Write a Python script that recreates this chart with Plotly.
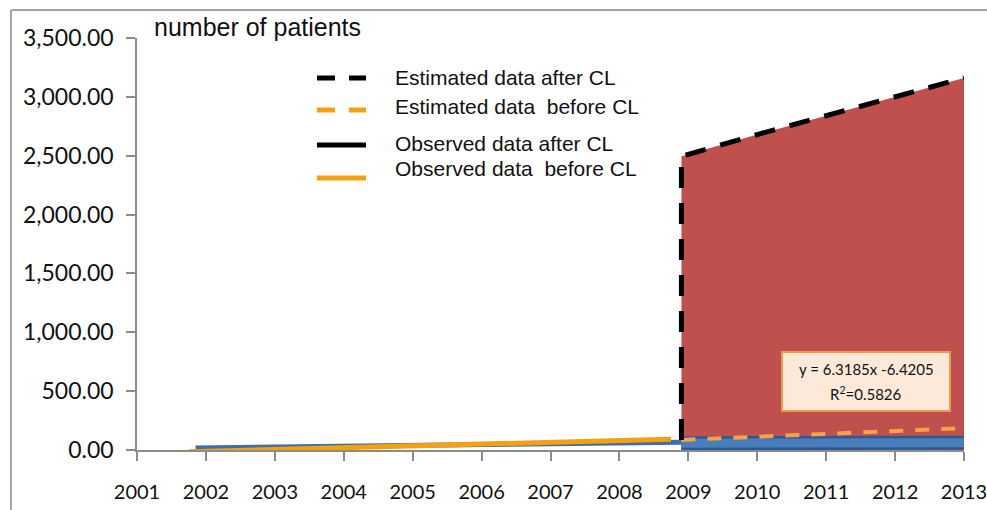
import plotly.graph_objects as go

# ---------------- data ----------------
obs_before_years = [2001.75, 2002.75, 2003.75, 2004.75, 2005.75, 2006.75, 2007.75, 2008.75]
obs_before_vals = [-15, 2, 16, 30, 47, 61, 77, 92]

obs_blue_years = [2001.85, 2002.85, 2003.85, 2004.85, 2005.85, 2006.85, 2007.85, 2008.9]
obs_blue_vals = [17, 23, 30, 38, 44, 51, 58, 66]

band_years = [2008.9, 2010, 2011, 2012, 2013.03]
band_vals = [58, 59, 60, 61, 62]

est_before_years = [2008.9, 2010, 2011, 2012, 2013]
est_before_vals = [86, 112, 138, 162, 186]

est_after_years = [2008.9, 2008.9, 2010, 2011, 2012, 2013]
est_after_vals = [85, 2495, 2680, 2840, 3000, 3160]

year_ticks = list(range(2001, 2014))
y_ticks = [0, 500, 1000, 1500, 2000, 2500, 3000, 3500]

legend_labels = ["Estimated data after CL", "Estimated data\u00a0 before CL",
                 "Observed data after CL", "Observed data\u00a0 before CL"]
regression_lines = ["y = 6.3185x -6.4205", "R<sup>2</sup>=0.5826"]
y_title = "number of patients"

# ---------------- layout geometry ----------------
W, H = 987, 510
L, R, T, B = 137, 23, 38, 60
PW = W - L - R
PH = H - T - B


def px(x):
    return (x - L) / PW


def py(y):
    return (H - B - y) / PH


RED = "#c0504d"
ORANGE = "#f5a00f"
ORANGE_LIGHT = "#f4a24c"
BLUE_DARK = "#2c5a90"
BLUE = "#4a7ebb"

fig = go.Figure()

# red area under estimated-after curve
fig.add_trace(go.Scatter(x=est_after_years[1:], y=est_after_vals[1:], mode="lines",
                         fill="tozeroy", fillcolor=RED, line=dict(width=0, color=RED),
                         hoverinfo="skip", showlegend=False))
# blue band (observed after)
fig.add_trace(go.Scatter(x=band_years, y=band_vals, mode="lines",
                         line=dict(color=BLUE_DARK, width=14), showlegend=False))
fig.add_trace(go.Scatter(x=band_years, y=band_vals, mode="lines",
                         line=dict(color=BLUE, width=9), showlegend=False))
# blue thin observed
fig.add_trace(go.Scatter(x=obs_blue_years, y=obs_blue_vals, mode="lines",
                         line=dict(color="#3d6dab", width=5), showlegend=False))
# estimated before (orange dashed)
fig.add_trace(go.Scatter(x=est_before_years, y=est_before_vals, mode="lines",
                         line=dict(color=ORANGE_LIGHT, width=4, dash="14px,12px"),
                         showlegend=False))
# observed before (orange solid)
fig.add_trace(go.Scatter(x=obs_before_years, y=obs_before_vals, mode="lines",
                         line=dict(color=ORANGE, width=5), showlegend=False))
# estimated after (black dashed)
fig.add_trace(go.Scatter(x=est_after_years, y=est_after_vals, mode="lines",
                         line=dict(color="black", width=5, dash="21px,15px"),
                         showlegend=False))

shapes = []
annotations = []

# outer frame (top and left edges visible)
shapes.append(dict(type="line", xref="paper", yref="paper",
                   x0=px(11), x1=px(1000), y0=py(10), y1=py(10),
                   line=dict(color="#a6a6a6", width=2), layer="below"))
shapes.append(dict(type="line", xref="paper", yref="paper",
                   x0=px(11), x1=px(11), y0=py(10), y1=py(520),
                   line=dict(color="#a6a6a6", width=2), layer="below"))

# manual legend
leg_rows = [
    (78, 78, "black", "dash"),
    (110, 106, ORANGE, "dash"),
    (145, 143, "black", "solid"),
    (178, 168, ORANGE, "solid"),
]
for (ly, ty, col, style), label in zip(leg_rows, legend_labels):
    if style == "dash":
        for a, b in [(317, 335), (349, 366)]:
            shapes.append(dict(type="line", xref="paper", yref="paper",
                               x0=px(a), x1=px(b), y0=py(ly), y1=py(ly),
                               line=dict(color=col, width=5)))
    else:
        shapes.append(dict(type="line", xref="paper", yref="paper",
                           x0=px(317), x1=px(366), y0=py(ly), y1=py(ly),
                           line=dict(color=col, width=5)))
    annotations.append(dict(x=px(393), y=py(ty), xref="paper", yref="paper",
                            text=label, showarrow=False, xanchor="left", yanchor="middle",
                            font=dict(family="Liberation Sans, Arial", size=21, color="#111")))

# axis title
annotations.append(dict(x=px(152), y=py(27), xref="paper", yref="paper", text=y_title,
                        showarrow=False, xanchor="left", yanchor="middle",
                        font=dict(family="Liberation Sans, Arial", size=25, color="#111")))

# regression box
shapes.append(dict(type="rect", xref="paper", yref="paper",
                   x0=px(782), x1=px(950), y0=py(411), y1=py(352),
                   fillcolor="#fde9d9", line=dict(color="#ee9b4e", width=2)))
annotations.append(dict(x=px(866), y=py(369), xref="paper", yref="paper",
                        text=regression_lines[0], showarrow=False,
                        xanchor="center", yanchor="middle",
                        font=dict(family="Lato", size=15, color="#111")))
annotations.append(dict(x=px(866), y=py(393), xref="paper", yref="paper",
                        text=regression_lines[1], showarrow=False,
                        xanchor="center", yanchor="middle",
                        font=dict(family="Lato", size=15, color="#111")))

fig.update_layout(
    width=W, height=H,
    margin=dict(l=L, r=R, t=T, b=B, autoexpand=False),
    paper_bgcolor="white", plot_bgcolor="white",
    showlegend=False,
    shapes=shapes, annotations=annotations,
    xaxis=dict(range=[2001, 2013], tickvals=year_ticks, ticktext=[str(y) for y in year_ticks],
               automargin=False, ticklabeloverflow="allow",
               showgrid=False, zeroline=False, showline=True, linecolor="#8c8c8c", linewidth=1.5,
               ticks="outside", ticklen=9, tickcolor="#8c8c8c", tickwidth=1.5,
               ticklabelstandoff=14,
               tickfont=dict(family="Lato", size=20, color="#111")),
    yaxis=dict(range=[0, 3500], tickvals=y_ticks, tickformat=",.2f",
               automargin=False, ticklabeloverflow="allow",
               showgrid=False, zeroline=False, showline=True, linecolor="#8c8c8c", linewidth=1.5,
               ticks="outside", ticklen=9, tickcolor="#8c8c8c", tickwidth=1.5,
               ticklabelstandoff=8,
               tickfont=dict(family="Lato", size=23, color="#111")),
)

fig.write_html("out.html", config={"displayModeBar": False},
               post_script="document.body.style.margin='0';document.body.style.overflow='hidden';")
